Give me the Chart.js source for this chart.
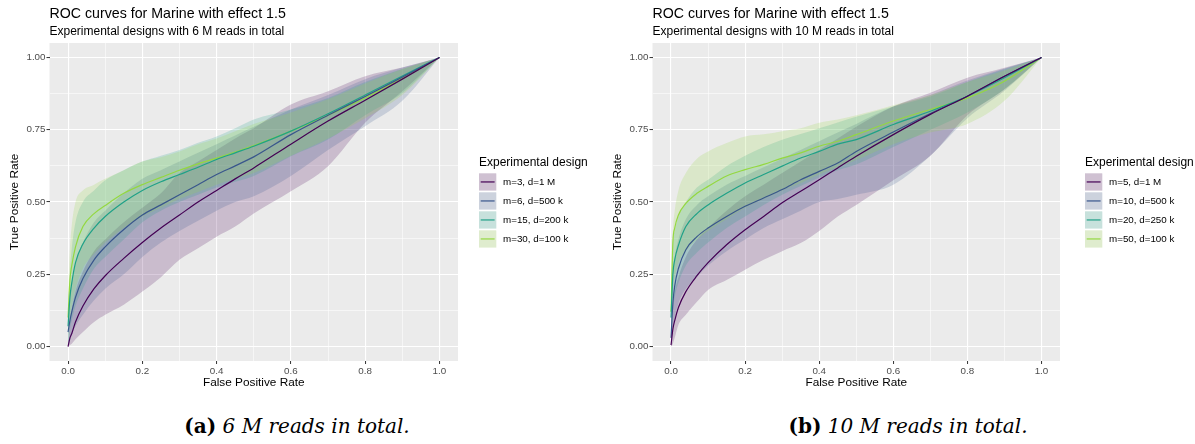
<!DOCTYPE html>
<html>
<head>
<meta charset="utf-8">
<script src="https://cdn.jsdelivr.net/npm/chart.js@4.4.0/dist/chart.umd.min.js"></script>
<style>
    body { margin: 0; background: #fff; width: 1195px; height: 444px; position: relative; overflow: hidden; }
    .painel { position: absolute; top: 0; height: 400px; }
    #painel-a { left: 0; width: 600px; }
    #painel-b { left: 603px; width: 592px; }
    .legenda { position: absolute; top: 416px; width: 600px; text-align: center; line-height: 20px;
               font-family: 'DejaVu Serif', serif; font-size: 20px; color: #000; white-space: pre; }
    .legenda b { font-weight: bold; }
    .legenda i { font-style: italic; }
</style>
</head>
<body>
<div class="painel" id="painel-a"><canvas id="grafico-a"></canvas></div>
<div class="painel" id="painel-b"><canvas id="grafico-b"></canvas></div>
<div class="legenda" style="left:-3px"><b>(a)</b> <i>6 M reads in total.</i></div>
<div class="legenda" style="left:608px"><b>(b)</b> <i>10 M reads in total.</i></div>

<script>
// Eixo X comum (taxa de falsos positivos)
const fpr = [0, 0.005, 0.01, 0.02, 0.04, 0.07, 0.1, 0.15, 0.2, 0.25, 0.3, 0.35, 0.4, 0.45, 0.5, 0.6, 0.7, 0.8, 0.9, 1.0];

const ticksX = [0, 0.2, 0.4, 0.6, 0.8, 1.0];
const rotulosX = ['0.0', '0.2', '0.4', '0.6', '0.8', '1.0'];
const ticksXMenores = [0.1, 0.3, 0.5, 0.7, 0.9];
const ticksY = [0, 0.25, 0.5, 0.75, 1.0];
const rotulosY = ['0.00', '0.25', '0.50', '0.75', '1.00'];
const ticksYMenores = [0.125, 0.375, 0.625, 0.875];

const cores = ['#440154', '#39568C', '#1FA187', '#94D840'];

// Painel (a): 6 M reads
const rotulosA = ['m=3, d=1 M', 'm=6, d=500 k', 'm=15, d=200 k', 'm=30, d=100 k'];
const a_m3_media  = [0.0, 0.03, 0.045, 0.085, 0.14, 0.2, 0.245, 0.305, 0.36, 0.41, 0.455, 0.5, 0.54, 0.58, 0.618, 0.7, 0.78, 0.852, 0.925, 1.0];
const a_m3_inf    = [0.0, 0.005, 0.01, 0.025, 0.05, 0.085, 0.11, 0.145, 0.19, 0.24, 0.3, 0.34, 0.38, 0.415, 0.46, 0.537, 0.624, 0.774, 0.883, 1.0];
const a_m3_sup    = [0.0, 0.09, 0.13, 0.19, 0.26, 0.33, 0.37, 0.43, 0.48, 0.53, 0.6, 0.64, 0.68, 0.72, 0.755, 0.837, 0.883, 0.935, 0.965, 1.0];
const a_m6_media  = [0.05, 0.09, 0.12, 0.17, 0.235, 0.3, 0.345, 0.405, 0.455, 0.49, 0.525, 0.56, 0.595, 0.625, 0.656, 0.733, 0.8, 0.865, 0.932, 1.0];
const a_m6_inf    = [0.0, 0.02, 0.04, 0.07, 0.11, 0.16, 0.2, 0.25, 0.31, 0.36, 0.4, 0.435, 0.47, 0.5, 0.52, 0.59, 0.68, 0.762, 0.85, 1.0];
const a_m6_sup    = [0.1, 0.18, 0.22, 0.29, 0.36, 0.43, 0.47, 0.53, 0.58, 0.61, 0.64, 0.67, 0.7, 0.73, 0.76, 0.82, 0.87, 0.925, 0.965, 1.0];
const a_m15_media = [0.07, 0.17, 0.22, 0.29, 0.355, 0.41, 0.45, 0.5, 0.54, 0.57, 0.595, 0.62, 0.647, 0.67, 0.693, 0.745, 0.805, 0.87, 0.936, 1.0];
const a_m15_inf   = [0.0, 0.06, 0.09, 0.14, 0.2, 0.27, 0.31, 0.37, 0.43, 0.47, 0.5, 0.525, 0.55, 0.57, 0.59, 0.658, 0.716, 0.8, 0.877, 1.0];
const a_m15_sup   = [0.12, 0.26, 0.34, 0.43, 0.5, 0.54, 0.575, 0.61, 0.64, 0.66, 0.68, 0.705, 0.727, 0.755, 0.785, 0.82, 0.86, 0.915, 0.96, 1.0];
const a_m30_media = [0.1, 0.23, 0.28, 0.345, 0.415, 0.46, 0.488, 0.53, 0.56, 0.585, 0.61, 0.632, 0.652, 0.673, 0.695, 0.745, 0.8, 0.86, 0.928, 1.0];
const a_m30_inf   = [0.02, 0.1, 0.14, 0.2, 0.27, 0.32, 0.36, 0.41, 0.45, 0.48, 0.51, 0.535, 0.56, 0.58, 0.6, 0.66, 0.72, 0.79, 0.87, 1.0];
const a_m30_sup   = [0.18, 0.34, 0.42, 0.5, 0.54, 0.56, 0.58, 0.61, 0.64, 0.655, 0.675, 0.7, 0.72, 0.745, 0.77, 0.81, 0.855, 0.91, 0.96, 1.0];

// Painel (b): 10 M reads
const rotulosB = ['m=5, d=1 M', 'm=10, d=500 k', 'm=20, d=250 k', 'm=50, d=100 k'];
const b_m5_media  = [0.005, 0.06, 0.09, 0.135, 0.19, 0.245, 0.29, 0.352, 0.404, 0.45, 0.497, 0.537, 0.577, 0.618, 0.658, 0.733, 0.803, 0.866, 0.935, 1.0];
const b_m5_inf    = [0.0, 0.01, 0.03, 0.075, 0.11, 0.155, 0.196, 0.23, 0.266, 0.3, 0.33, 0.358, 0.4, 0.45, 0.49, 0.575, 0.66, 0.8, 0.89, 1.0];
const b_m5_sup    = [0.02, 0.14, 0.19, 0.24, 0.31, 0.37, 0.41, 0.47, 0.52, 0.56, 0.6, 0.64, 0.68, 0.72, 0.76, 0.83, 0.878, 0.93, 0.964, 1.0];
const b_m10_media = [0.03, 0.15, 0.21, 0.27, 0.335, 0.38, 0.41, 0.45, 0.485, 0.514, 0.543, 0.577, 0.606, 0.635, 0.675, 0.742, 0.806, 0.866, 0.935, 1.0];
const b_m10_inf   = [0.0, 0.06, 0.1, 0.15, 0.2, 0.24, 0.28, 0.33, 0.37, 0.41, 0.44, 0.47, 0.5, 0.51, 0.525, 0.56, 0.66, 0.79, 0.885, 1.0];
const b_m10_sup   = [0.08, 0.25, 0.31, 0.37, 0.44, 0.49, 0.52, 0.56, 0.59, 0.62, 0.65, 0.68, 0.71, 0.74, 0.77, 0.83, 0.87, 0.92, 0.962, 1.0];
const b_m20_media = [0.1, 0.25, 0.3, 0.35, 0.415, 0.46, 0.49, 0.53, 0.566, 0.595, 0.624, 0.652, 0.675, 0.7, 0.716, 0.768, 0.814, 0.866, 0.93, 1.0];
const b_m20_inf   = [0.03, 0.12, 0.17, 0.22, 0.28, 0.325, 0.36, 0.41, 0.45, 0.49, 0.525, 0.555, 0.585, 0.61, 0.63, 0.69, 0.75, 0.81, 0.89, 1.0];
const b_m20_sup   = [0.18, 0.36, 0.4, 0.45, 0.5, 0.55, 0.577, 0.624, 0.66, 0.69, 0.715, 0.735, 0.755, 0.775, 0.795, 0.83, 0.865, 0.915, 0.96, 1.0];
const b_m50_media = [0.12, 0.36, 0.41, 0.455, 0.495, 0.53, 0.554, 0.59, 0.612, 0.63, 0.652, 0.67, 0.693, 0.71, 0.733, 0.78, 0.82, 0.86, 0.918, 1.0];
const b_m50_inf   = [0.03, 0.2, 0.24, 0.29, 0.33, 0.37, 0.4, 0.44, 0.48, 0.51, 0.54, 0.565, 0.595, 0.62, 0.645, 0.7, 0.74, 0.77, 0.85, 1.0];
const b_m50_sup   = [0.2, 0.4, 0.47, 0.54, 0.6, 0.65, 0.675, 0.704, 0.727, 0.734, 0.745, 0.755, 0.774, 0.785, 0.8, 0.835, 0.87, 0.915, 0.955, 1.0];

function comAlfa(hex, a) {
    const n = parseInt(hex.slice(1), 16);
    return `rgba(${(n >> 16) & 255}, ${(n >> 8) & 255}, ${n & 255}, ${a})`;
}

function pontos(valores) {
    return fpr.map((x, i) => ({ x: x, y: valores[i] }));
}

const ehMaior = (v, lista) => lista.some(t => Math.abs(t - v) < 1e-9);

// Plugin: fundo cinza do painel, títulos e legenda no estilo ggplot
const estiloGG = {
    id: 'estiloGG',
    beforeDraw(chart) {
        const { ctx, chartArea: a } = chart;
        ctx.save();
        ctx.fillStyle = '#EBEBEB';
        ctx.fillRect(a.left, a.top, a.right - a.left, a.bottom - a.top);
        ctx.restore();
    },
    afterDraw(chart) {
        const { ctx, chartArea: a } = chart;
        const o = chart.options.plugins.estiloGG;
        ctx.save();
        ctx.fillStyle = '#000';
        ctx.textBaseline = 'alphabetic';
        ctx.textAlign = 'left';
        ctx.font = '14.2px "Liberation Sans", Arial, sans-serif';
        ctx.fillText(o.titulo, a.left, 17.5);
        ctx.font = '12px "Liberation Sans", Arial, sans-serif';
        ctx.fillText(o.subtitulo, a.left, 35);

        // legenda
        const x0 = a.right + o.legendaX;
        ctx.font = '12px "Liberation Sans", Arial, sans-serif';
        ctx.fillText('Experimental design', x0, 166);
        ctx.font = '9.8px "Liberation Sans", Arial, sans-serif';
        ctx.textBaseline = 'middle';
        o.rotulos.forEach((r, i) => {
            const y = 173.3 + i * 19;
            ctx.fillStyle = '#F2F2F2';
            ctx.fillRect(x0, y, 17.3, 17.3);
            ctx.fillStyle = comAlfa(o.cores[i], 0.2);
            ctx.fillRect(x0, y, 17.3, 17.3);
            ctx.strokeStyle = o.cores[i];
            ctx.lineWidth = 1.2;
            ctx.beginPath();
            ctx.moveTo(x0 + 1.7, y + 8.65);
            ctx.lineTo(x0 + 15.6, y + 8.65);
            ctx.stroke();
            ctx.fillStyle = '#000';
            ctx.fillText(r, x0 + 24, y + 8.9);
        });
        ctx.restore();
    }
};

function criarGraficoROC(canvasId, titulo, subtitulo, rotulos, series, margemDireita, legendaX) {
    const ctx = document.getElementById(canvasId);
    if (!ctx) return;

    const datasets = [];
    // faixas (ribbons) primeiro, depois as curvas médias
    series.forEach((s, i) => {
        const idxInf = datasets.length;
        datasets.push({
            data: pontos(s.inf), borderWidth: 0, borderColor: 'rgba(0,0,0,0)',
            pointRadius: 0, fill: false, order: 10 - i
        });
        datasets.push({
            data: pontos(s.sup), borderWidth: 0, borderColor: 'rgba(0,0,0,0)',
            pointRadius: 0, fill: idxInf, backgroundColor: comAlfa(cores[i], 0.2), order: 10 - i
        });
    });
    series.forEach((s, i) => {
        datasets.push({
            data: pontos(s.media), borderColor: cores[i], borderWidth: 1.2,
            pointRadius: 0, fill: false, order: 0
        });
    });

    const gradeCor = '#FFFFFF';
    const fonteTick = { family: '"Liberation Sans", Arial, sans-serif', size: 9.8 };
    const fonteTitulo = { family: '"Liberation Sans", Arial, sans-serif', size: 11.8 };

    new Chart(ctx.getContext('2d'), {
        type: 'line',
        data: { datasets: datasets },
        options: {
            responsive: true,
            maintainAspectRatio: false,
            animation: false,
            layout: { padding: { left: 0, right: margemDireita, top: 43, bottom: 0 } },
            elements: { line: { cubicInterpolationMode: 'monotone' } },
            plugins: {
                legend: { display: false },
                tooltip: { enabled: false },
                estiloGG: { titulo, subtitulo, rotulos, cores, legendaX }
            },
            scales: {
                x: {
                    type: 'linear', min: -0.05, max: 1.05,
                    afterBuildTicks: s => { s.ticks = [...ticksX, ...ticksXMenores].sort((p, q) => p - q).map(v => ({ value: v })); },
                    afterFit: s => { s.height = 39; },
                    border: { display: false },
                    grid: {
                        color: gradeCor,
                        lineWidth: c => (c.tick && ehMaior(c.tick.value, ticksX)) ? 1.1 : 0.55,
                        tickColor: c => (c.tick && ehMaior(c.tick.value, ticksX)) ? '#333333' : 'rgba(0,0,0,0)',
                        tickLength: 3, tickWidth: 1
                    },
                    ticks: {
                        autoSkip: false, maxRotation: 0, padding: 1,
                        color: '#4D4D4D', font: fonteTick,
                        callback: v => { const k = ticksX.findIndex(t => Math.abs(t - v) < 1e-9); return k >= 0 ? rotulosX[k] : ''; }
                    },
                    title: { display: true, text: 'False Positive Rate', color: '#000', font: fonteTitulo, padding: { top: 0, bottom: 10 } }
                },
                y: {
                    type: 'linear', min: -0.05, max: 1.05,
                    afterBuildTicks: s => { s.ticks = [...ticksY, ...ticksYMenores].sort((p, q) => p - q).map(v => ({ value: v })); },
                    afterFit: s => { s.width = 49.5; },
                    border: { display: false },
                    grid: {
                        color: gradeCor,
                        lineWidth: c => (c.tick && ehMaior(c.tick.value, ticksY)) ? 1.1 : 0.55,
                        tickColor: c => (c.tick && ehMaior(c.tick.value, ticksY)) ? '#333333' : 'rgba(0,0,0,0)',
                        tickLength: 3, tickWidth: 1
                    },
                    ticks: {
                        autoSkip: false, padding: 1,
                        color: '#4D4D4D', font: fonteTick,
                        callback: v => { const k = ticksY.findIndex(t => Math.abs(t - v) < 1e-9); return k >= 0 ? rotulosY[k] : ''; }
                    },
                    title: { display: true, text: 'True Positive Rate', color: '#000', font: fonteTitulo, padding: { top: 8, bottom: 0 } }
                }
            }
        },
        plugins: [estiloGG]
    });
}

criarGraficoROC('grafico-a',
    'ROC curves for Marine with effect 1.5',
    'Experimental designs with 6 M reads in total',
    rotulosA,
    [
        { media: a_m3_media, inf: a_m3_inf, sup: a_m3_sup },
        { media: a_m6_media, inf: a_m6_inf, sup: a_m6_sup },
        { media: a_m15_media, inf: a_m15_inf, sup: a_m15_sup },
        { media: a_m30_media, inf: a_m30_inf, sup: a_m30_sup }
    ], 142, 21);

criarGraficoROC('grafico-b',
    'ROC curves for Marine with effect 1.5',
    'Experimental designs with 10 M reads in total',
    rotulosB,
    [
        { media: b_m5_media, inf: b_m5_inf, sup: b_m5_sup },
        { media: b_m10_media, inf: b_m10_inf, sup: b_m10_sup },
        { media: b_m20_media, inf: b_m20_inf, sup: b_m20_sup },
        { media: b_m50_media, inf: b_m50_inf, sup: b_m50_sup }
    ], 135, 25);
</script>
</body>
</html>
